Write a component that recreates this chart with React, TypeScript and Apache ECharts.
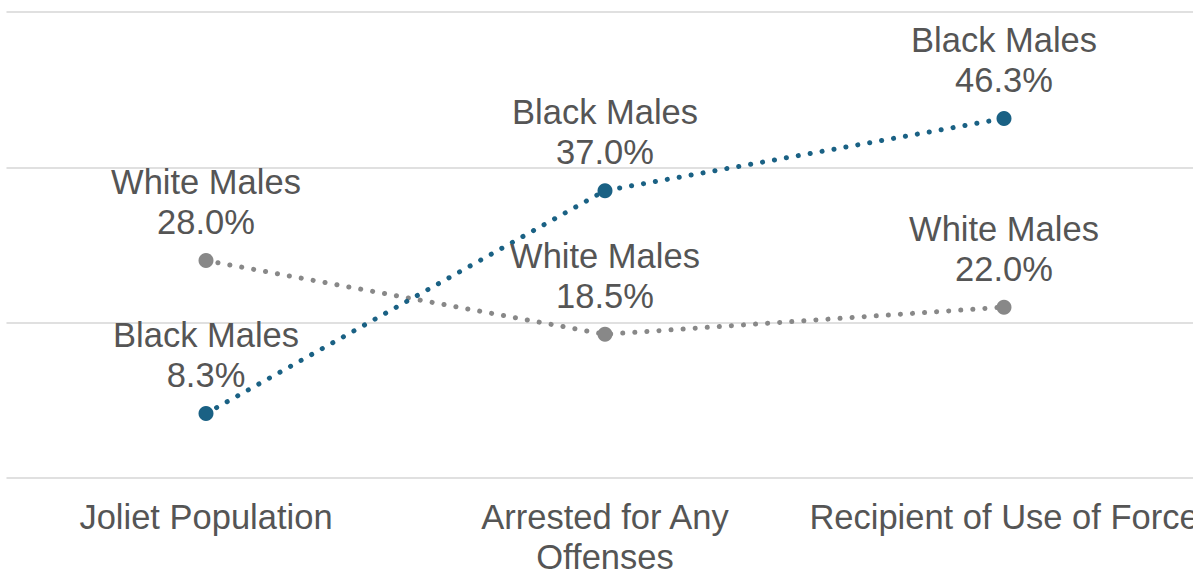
import React, { useEffect, useRef } from "react";
import * as echarts from "echarts";

// Share of each group (%) across three stages
const categories = ["Joliet Population", "Arrested for Any\nOffenses", "Recipient of Use of Force"];
const whiteMales = [28.0, 18.5, 22.0];
const blackMales = [8.3, 37.0, 46.3];
const yTicks = { min: 0, max: 60, interval: 20 };

const FONT = "'Liberation Sans', Arial, sans-serif";
const TEXT = "#555555";
const BLUE = "#1a6184";
const GRAY = "#888888";

function makeSeries(name: string, values: number[], color: string) {
  return {
    name,
    type: "line",
    data: values,
    symbol: "circle",
    symbolSize: 15,
    itemStyle: { color },
    lineStyle: { color, width: 5, type: [0.1, 12], cap: "round" },
    label: {
      show: true,
      position: "top",
      distance: 11,
      formatter: (p: any) => `${name}\n${p.value.toFixed(1)}%`,
      color: TEXT,
      fontSize: 34.5,
      lineHeight: 40,
      fontFamily: FONT,
      align: "center",
    },
    emphasis: { disabled: true },
  };
}

export default function App() {
  const ref = useRef<HTMLDivElement>(null);
  useEffect(() => {
    if (!ref.current) return;
    const chart = echarts.init(ref.current, undefined, { renderer: "svg" });
    chart.setOption({
      animation: false,
      backgroundColor: "#ffffff",
      grid: {
        left: 6.5,
        right: -10.5,
        top: 12,
        bottom: 95,
        containLabel: false,
        outerBoundsMode: "none",
      },
      xAxis: {
        type: "category",
        data: categories,
        boundaryGap: true,
        axisLine: { show: false },
        axisTick: { show: false },
        splitLine: { show: false },
        axisLabel: {
          color: TEXT,
          fontSize: 34.5,
          lineHeight: 40,
          fontFamily: FONT,
          margin: 19,
          interval: 0,
          hideOverlap: false,
        },
      },
      yAxis: {
        type: "value",
        min: yTicks.min,
        max: yTicks.max,
        interval: yTicks.interval,
        axisLabel: { show: false },
        axisLine: { show: false },
        axisTick: { show: false },
        splitLine: { lineStyle: { color: "#e0e0e0", width: 2 } },
      },
      series: [
        makeSeries("White Males", whiteMales, GRAY),
        makeSeries("Black Males", blackMales, BLUE),
      ],
    });
    return () => chart.dispose();
  }, []);
  return (
    <div
      ref={ref}
      style={{ position: "absolute", left: 0, top: 0, width: 1193, height: 573, overflow: "hidden" }}
    />
  );
}
